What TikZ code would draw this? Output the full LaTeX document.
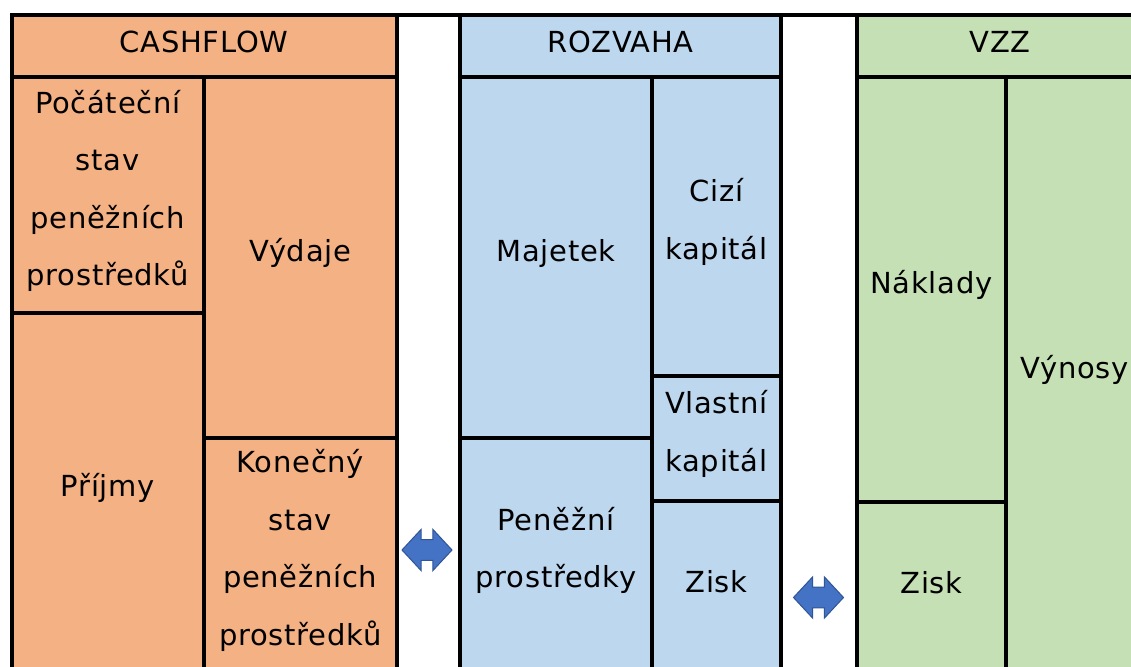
\documentclass[tikz,border=0pt]{standalone}
\usepackage{fontspec}
\setmainfont{DejaVu Sans}[LetterSpace=2.5]
\definecolor{cforange}{HTML}{F4B183}
\definecolor{rzblue}{HTML}{BDD7EE}
\definecolor{vzgreen}{HTML}{C5E0B4}
\definecolor{arrowfill}{HTML}{4472C4}
\definecolor{arrowline}{HTML}{2F5597}
\tikzset{
  cell/.style={draw=black, line width=4pt, rectangle, inner sep=0pt, outer sep=0pt,
    anchor=north west},
  celltext/.style={align=center, inner sep=0pt, text=black,
    font=\fontsize{29}{57.5}\selectfont},
  lr arrow/.pic={
    \filldraw[fill=arrowfill, draw=arrowline, line width=1pt, line join=miter]
      (-25,0) -- (-5.8,-20.7) -- (-5.8,-10.3) -- (5.8,-10.3) -- (5.8,-20.7)
      -- (25,0) -- (5.8,20.7) -- (5.8,10.3) -- (-5.8,10.3) -- (-5.8,20.7) -- cycle;
  }
}
% #1 name, #2 fill, #3 x1, #4 y1, #5 x2, #6 y2, #7 text
\newcommand\tablecell[7]{%
  \node[cell, fill=#2, minimum width={#5-#3}, minimum height={#6-#4}] (#1) at (#3,#4) {};
  \node[celltext] (#1-text) at ([yshift=4.5pt]#1.center) {#7};}
\begin{document}
\begin{tikzpicture}[x=1pt, y=-1pt]
\useasboundingbox (0,0) rectangle (1131,666);
\clip (0,0) rectangle (1131,666);

% headers
\tablecell{cfhead}{cforange}{11.5}{15.5}{396.5}{77.5}{CASHFLOW}
\tablecell{rzhead}{rzblue}{460}{15.5}{781}{77.5}{ROZVAHA}
\tablecell{vzhead}{vzgreen}{857}{15.5}{1143}{77.5}{VZZ}

% cash flow
\tablecell{cfstart}{cforange}{11.5}{77.5}{204}{313}{Počáteční\\stav\\peněžních\\prostředků}
\tablecell{cfin}{cforange}{11.5}{313}{204}{672}{Příjmy}
\tablecell{cfout}{cforange}{204}{77.5}{396.5}{438}{Výdaje}
\tablecell{cfend}{cforange}{204}{438}{396.5}{672}{Konečný\\stav\\peněžních\\prostředků}

% balance sheet
\tablecell{rzasset}{rzblue}{460}{77.5}{652}{438}{Majetek}
\tablecell{rzcash}{rzblue}{460}{438}{652}{672}{Peněžní\\prostředky}
\tablecell{rzdebt}{rzblue}{652}{77.5}{781}{375.5}{Cizí\\kapitál}
\tablecell{rzequity}{rzblue}{652}{375.5}{781}{501}{Vlastní\\kapitál}
\tablecell{rzprofit}{rzblue}{652}{501}{781}{672}{Zisk}

% income statement
\tablecell{vzcost}{vzgreen}{857}{77.5}{1006}{502}{Náklady}
\tablecell{vzprofit}{vzgreen}{857}{502}{1006}{672}{Zisk}
\tablecell{vzrev}{vzgreen}{1006}{77.5}{1143}{672}{Výnosy}

% top rule over the gaps
\draw[line width=4pt] (cfhead.north east) -- (rzhead.north west);
\draw[line width=4pt] (rzhead.north east) -- (vzhead.north west);

% links between the statements
\pic at (427,550) {lr arrow};
\pic at (818.5,597.5) {lr arrow};
\end{tikzpicture}
\end{document}
